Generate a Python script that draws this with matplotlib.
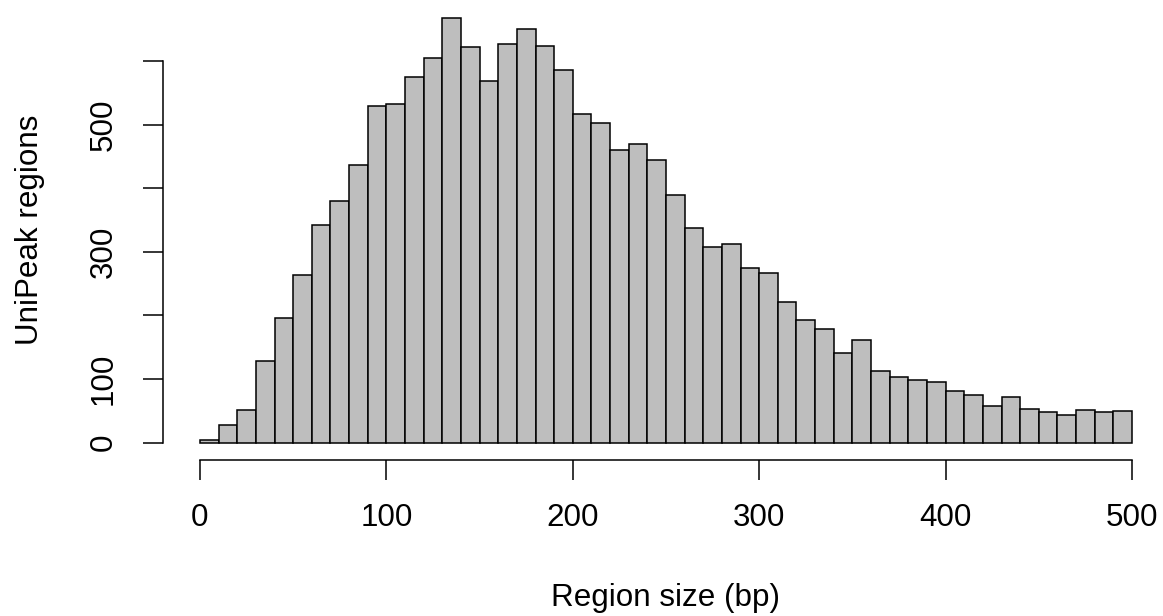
import numpy as np
import matplotlib
matplotlib.use("Agg")
import matplotlib.pyplot as plt

# histogram of region sizes, 10 bp bins from 0 to 500
bin_edges = np.arange(0, 510, 10)
counts = [4, 28, 52, 128, 196, 263, 343, 380, 437, 530,
          532, 575, 605, 668, 622, 569, 626, 650, 623, 586,
          517, 502, 460, 469, 444, 389, 337, 307, 313, 275,
          266, 221, 193, 178, 141, 162, 113, 103, 98, 95,
          82, 75, 58, 72, 53, 48, 44, 51, 48, 50]
x_ticks = [0, 100, 200, 300, 400, 500]
y_ticks = [0, 100, 200, 300, 400, 500, 600]
y_ticklabels = ['0', '100', '', '300', '', '500', '']

plt.rcParams['font.family'] = ['Liberation Sans', 'DejaVu Sans']
plt.rcParams['font.size'] = 22.6

fig = plt.figure(figsize=(11.63, 6.16), dpi=100)
ax = fig.add_axes([0.1399, 0.2537, 0.8655, 0.7451])

ax.bar(bin_edges[:-1], counts, width=10, align='edge',
       color='#bebebe', edgecolor='black', linewidth=1.1)

# R style: 4% padding around the data range
ymax = max(counts)
ax.set_xlim(-20, 520)
ax.set_ylim(-0.04*ymax, 1.04*ymax)

for s in ['top', 'right']:
    ax.spines[s].set_visible(False)
ax.spines['left'].set_bounds(0, 600)
ax.spines['bottom'].set_bounds(0, 500)
ax.spines['left'].set_linewidth(1.1)
ax.spines['bottom'].set_linewidth(1.1)

ax.set_xticks(x_ticks)
ax.set_yticks(y_ticks)
ax.set_yticklabels(y_ticklabels, rotation=90, va='center')
ax.tick_params(length=14.4, width=1.1, pad=17)

ax.set_xlabel('Region size (bp)', labelpad=36)
ax.set_ylabel('UniPeak regions', labelpad=32)

fig.savefig('out.png', dpi=100)
